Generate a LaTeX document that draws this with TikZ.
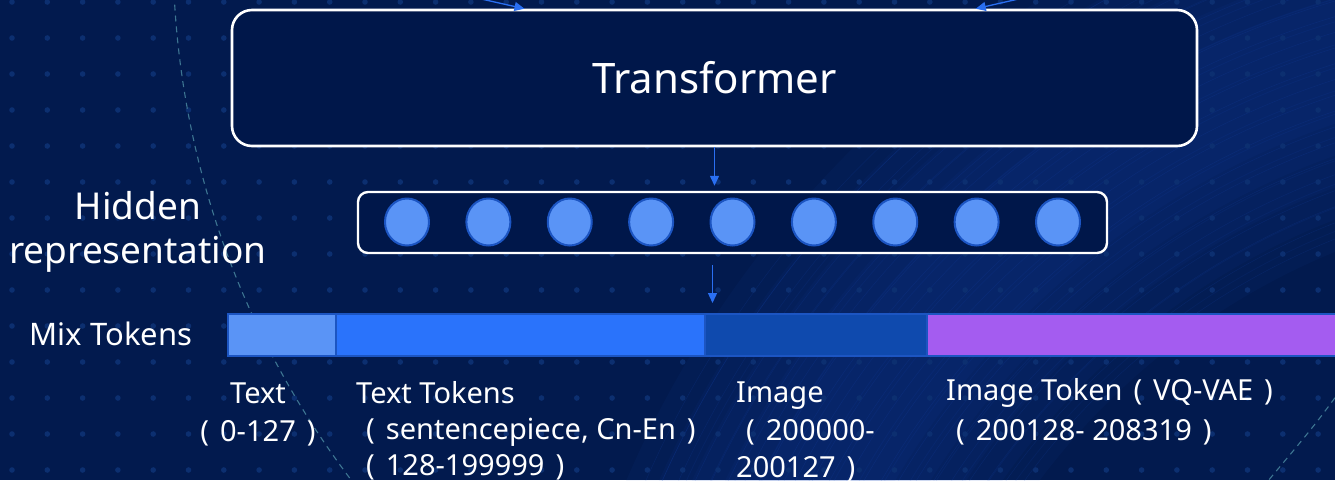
\documentclass[tikz,border=0pt]{standalone}
\usepackage{fontspec}
\setmainfont{Noto Sans}
\usetikzlibrary{arrows.meta,shapes.geometric,calc}
\definecolor{bg}{HTML}{021A4E}
\definecolor{boxfill}{HTML}{00174A}
\definecolor{dotc}{HTML}{0C2F70}
\definecolor{arcc}{HTML}{3D7592}
\definecolor{arrowc}{HTML}{2A6FF2}
\definecolor{tokL}{HTML}{5A94F6}
\definecolor{tokM}{HTML}{2A73FB}
\definecolor{tokD}{HTML}{0F4AAE}
\definecolor{tokP}{HTML}{A45CF0}
\definecolor{tokB}{HTML}{1C55C2}
\definecolor{fib}{HTML}{1A4DBF}
\newcommand\parsp{\hspace{11pt}}
\begin{document}
\begin{tikzpicture}[x=1pt,y=-1pt,
  bigbox/.style={draw=white, line width=2.6pt, fill=boxfill, rounded corners=20pt, inner sep=0pt, text=white},
  hidbox/.style={draw=white, line width=2.4pt, fill=boxfill, rounded corners=10pt, inner sep=0pt},
  tokcirc/.style={ellipse, draw=tokB, line width=2pt, fill=tokL, minimum width=44pt, minimum height=47pt, inner sep=0pt},
  seg/.style={draw=tokB, line width=2.5pt, minimum height=42pt, inner sep=0pt, outer sep=0pt, anchor=west},
  arr/.style={draw=arrowc, line width=1.3pt, -{Triangle[length=10pt,width=9pt]}},
  lbl/.style={text=white, inner sep=0pt, font=\fontsize{31}{36}\selectfont},
  hlbl/.style={text=white, inner sep=0pt, font=\fontsize{37}{44}\selectfont},
  slbl/.style={text=white, inner sep=0pt, font=\fontsize{29}{36}\selectfont},
  bgarc/.style={draw=arcc, line width=1.1pt, dash pattern=on 6pt off 5pt}
]
\useasboundingbox (0,0) rectangle (1335,480);
\begin{scope}
\clip (0,0) rectangle (1335,480);
\fill[bg] (0,0) rectangle (1335,480);
% fibre texture (soft glow band)
\foreach \a/\b in {700/1060, 730/1030, 760/1000, 790/970, 820/940}
  \fill[fib, opacity=0.06, even odd rule] (1600,900) circle[radius=\b] (1600,900) circle[radius=\a];
\foreach \r in {712,727,...,1050} \draw[fib, opacity=0.16, line width=0.5pt] (1600,900) circle[radius=\r];
\foreach \r in {719,741,...,1040} \draw[fib, opacity=0.10, line width=0.8pt] (1600,900) circle[radius=\r];
% dots
\foreach \i in {0,...,37} \foreach \j in {0,...,13}
  \fill[dotc] ({12+35.3*\i},{2+36*\j}) circle[radius=2.8];
% dashed arcs
\draw[bgarc] (1050,-50) circle[radius=877];
\draw[bgarc] (1348,380) .. controls (1315,425) .. (1262,488);
\end{scope}

% Transformer
\node[bigbox, minimum width=965pt, minimum height=136pt, font=\fontsize{42}{50}\selectfont] (T) at (714.5,78) {Transformer};

% Hidden representation
\node[hidbox, minimum width=749pt, minimum height=61pt] (H) at (732.5,222.5) {};
\foreach \i in {1,...,9}
  \node[tokcirc] (c\i) at ({407+81.375*(\i-1)},222) {};

% Mix tokens bar
\node[seg, fill=tokL, minimum width=108pt] (s1) at (228,335) {};
\node[seg, fill=tokM, minimum width=369pt] (s2) at (s1.east) {};
\node[seg, fill=tokD, minimum width=222pt] (s3) at (s2.east) {};
\node[seg, fill=tokP, minimum width=420pt] (s4) at (s3.east) {};

% arrows
\coordinate (inL) at (459,-6);
\coordinate (inR) at (1045,-7);
\draw[arr] (inL) -- ($(T.north west)!0.3036!(T.north east)$);
\draw[arr] (inR) -- ($(T.north west)!0.770!(T.north east)$);
\draw[arr, shorten >=5pt] (T.south) -- (T.south |- H.north);
\draw[arr, shorten <=11pt, shorten >=11pt] ([xshift=-2pt]T.south |- H.south) -- ([xshift=-2pt]T.south |- s2.north);

% labels
\node[hlbl, anchor=base] (hid1) at (138,219) {Hidden};
\node[hlbl, anchor=base] (hid2) at (138,263) {representation};
\node[lbl, anchor=base] (mix) at (111,345) {Mix Tokens};

\node[slbl, anchor=base] (t1) at (258,403) {Text};
\node[slbl, anchor=base] (t2) at (258,441) {(\parsp 0-127\parsp)};
\node[slbl, anchor=base west] (tt1) at (356,403) {Text Tokens};
\node[slbl, anchor=base west] (tt2) at (366,439) {(\parsp sentencepiece, Cn-En\parsp)};
\node[slbl, anchor=base west] (tt3) at (366,475) {(\parsp 128-199999\parsp)};
\node[slbl, anchor=base west] (im1) at (736,402) {Image};
\node[slbl, anchor=base west] (im2) at (746,440) {(\parsp 200000-};
\node[slbl, anchor=base west] (im3) at (736,477) {200127\parsp)};
\node[slbl, anchor=base west] (it1) at (946,400) {Image Token\parsp(\parsp VQ-VAE\parsp)};
\node[slbl, anchor=base west] (it2) at (956,440) {(\parsp 200128- 208319\parsp)};
\end{tikzpicture}
\end{document}
